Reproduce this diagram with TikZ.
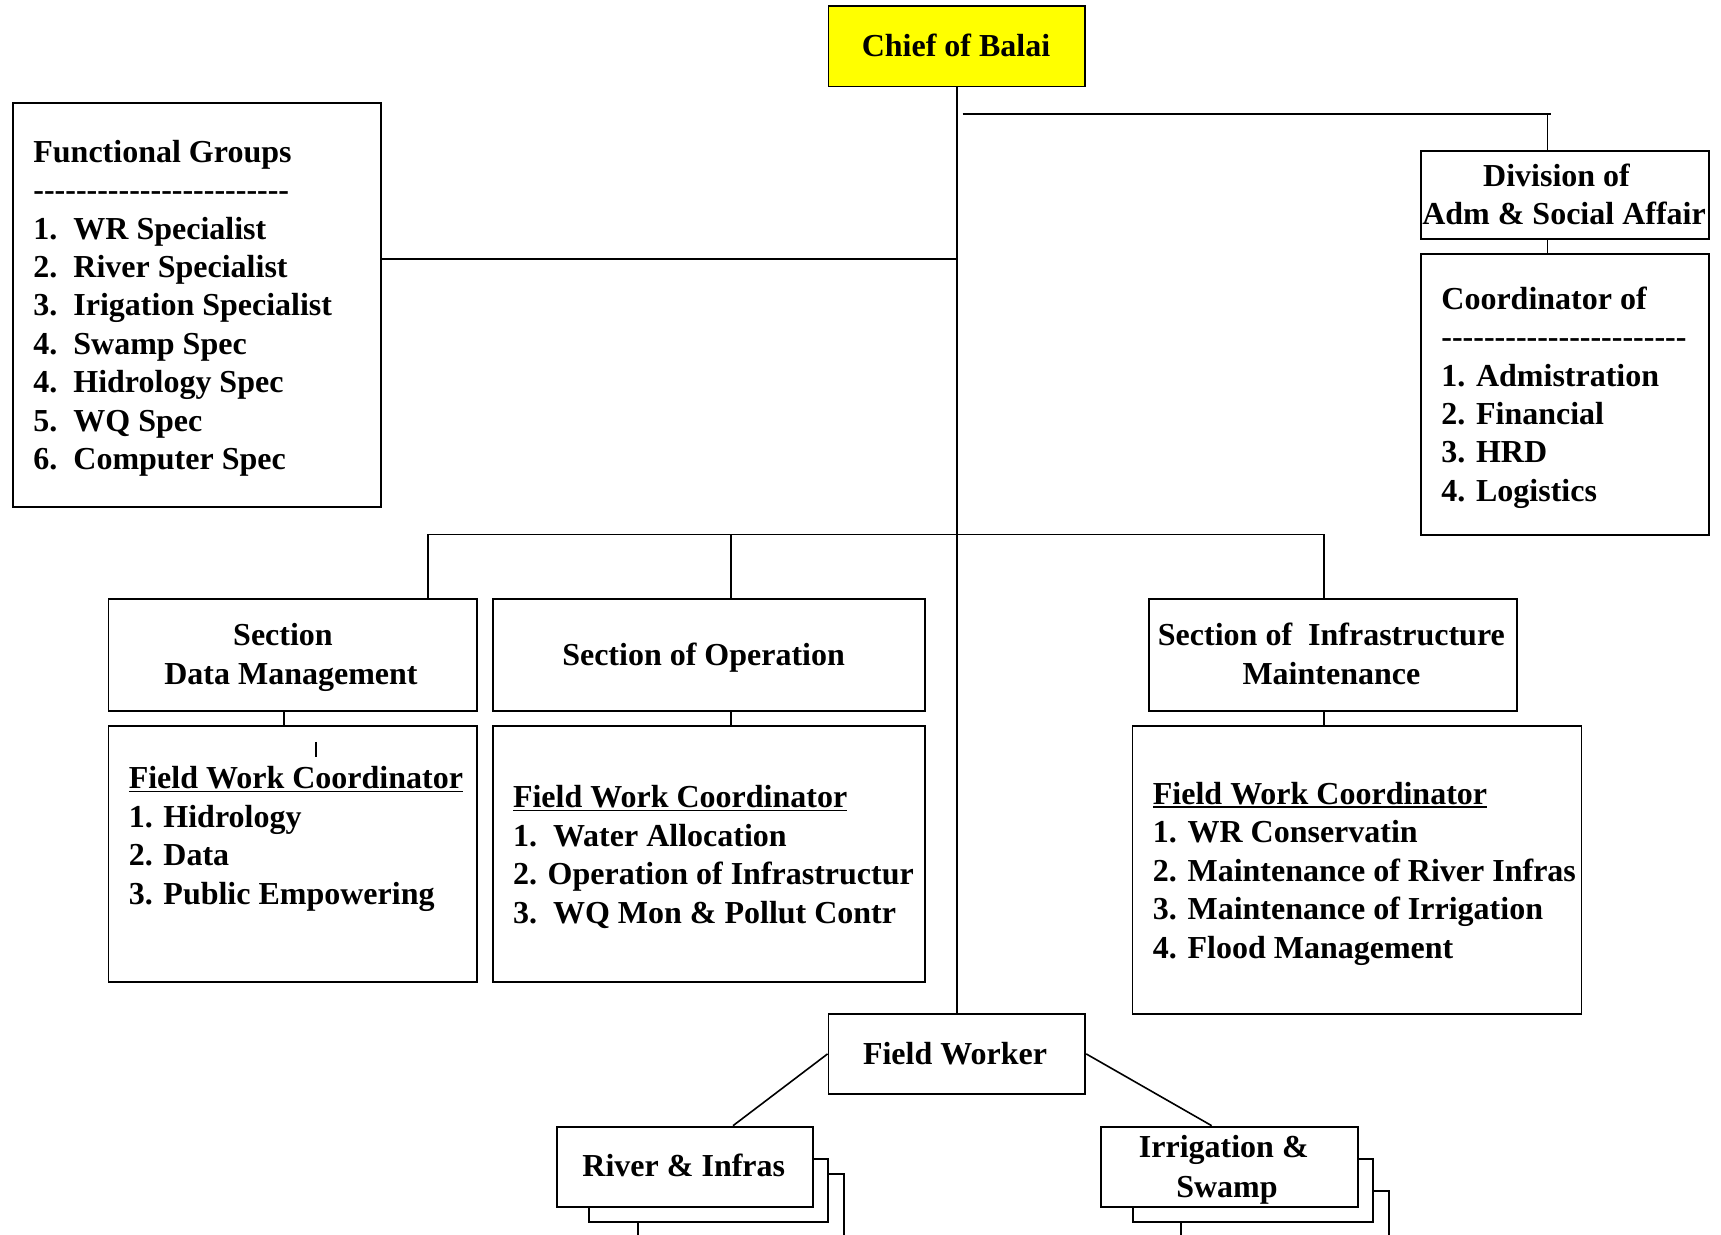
\documentclass[tikz,border=0pt]{standalone}
\usepackage{fontspec}
\setmainfont{Liberation Serif}
\definecolor{chiefyellow}{HTML}{FFFF00}
\newcommand\ulf[1]{\setbox0\hbox{#1}\rlap{\rule[-1.6pt]{\wd0}{0.8pt}}\box0}
\newcommand\hyrow[1]{\foreach\k in {1,...,#1}{-\kern0pt}}
\newcommand\nb[1]{\makebox[20pt][l]{#1}}
\newcommand\fst{\rule{0pt}{12pt}}
\begin{document}
\begin{tikzpicture}[x=0.5pt,y=-0.5pt,
  box/.style={draw, line width=0.9pt, fill=white, inner sep=0pt, anchor=north west},
  conn/.style={line width=0.8pt},
  txt/.style={inner sep=0pt, anchor=north west, align=left, font=\fontsize{16}{19.2}\selectfont\bfseries},
  ctxt/.style={inner sep=0pt, anchor=base, font=\fontsize{16}{19.2}\selectfont\bfseries}]
\useasboundingbox (0,0) rectangle (1721,1235);
\clip (0,0) rectangle (1721,1235);

% boxes
\node[box, fill=chiefyellow, minimum width=128.4pt, minimum height=40.05pt] (chief) at (827.6,5.5) {};
\node[box, minimum width=144pt, minimum height=44pt] (div) at (1420,150) {};
\node[box, minimum width=144pt, minimum height=140.5pt] (coord) at (1420,253.5) {};
\node[box, minimum width=184pt, minimum height=202pt] (fg) at (12,102) {};
\node[box, minimum width=184.2pt, minimum height=56pt] (sdm) at (107.6,598) {};
\node[box, minimum width=216.15pt, minimum height=56pt] (sop) at (491.7,598) {};
\node[box, minimum width=184pt, minimum height=56pt] (sin) at (1148,598) {};
\node[box, minimum width=184.2pt, minimum height=127.75pt] (fdm) at (107.6,725.5) {};
\node[box, minimum width=216.15pt, minimum height=127.75pt] (fop) at (491.7,725.5) {};
\node[box, minimum width=224.45pt, minimum height=143.75pt] (fin) at (1131.6,725.5) {};
\node[box, minimum width=128.4pt, minimum height=40pt] (fw) at (827.6,1013) {};
\node[box, minimum width=103.3pt, minimum height=50pt] (riv3) at (636.7,1173.3) {};
\node[box, minimum width=119.5pt, minimum height=31.35pt] (riv2) at (588.3,1158.3) {};
\node[box, minimum width=128pt, minimum height=40pt] (riv1) at (555.7,1125.7) {};
\node[box, minimum width=103.85pt, minimum height=50pt] (irr3) at (1180,1190) {};
\node[box, minimum width=120pt, minimum height=31.65pt] (irr2) at (1132.3,1157.7) {};
\node[box, minimum width=128.35pt, minimum height=40pt] (irr1) at (1100,1125.7) {};

% connectors
\coordinate (fgj) at (956,259);
\coordinate (rbs) at (962.6,114);
\coordinate (rbe) at (1551,114);
\coordinate (rbd) at (1547.6,114);
\coordinate (busl) at (428,534.5);
\coordinate (busm) at (731,534.5);
\coordinate (busr) at (1324,534.5);
\coordinate (tickt) at (316,742);
\coordinate (tickb) at (316,757);
\draw[conn] (chief.south) -- (fw.north);
\draw[conn] (fg.east |- fgj) -- (fgj);
\draw[conn] (rbs) -- (rbe);
\draw[conn] (rbd) -- (rbd |- div.north);
\draw[conn] (rbd |- div.south) -- (rbd |- coord.north);
\draw[conn] (busl) -- (busr);
\draw[conn] (busl) -- (busl |- sdm.north);
\draw[conn] (busm) -- (busm |- sop.north);
\draw[conn] (busr) -- (busr |- sin.north);
\draw[conn] (284,0 |- sdm.south) coordinate (dmc) -- (dmc |- fdm.north);
\draw[conn] (busm |- sop.south) -- (busm |- fop.north);
\draw[conn] (busr |- sin.south) -- (busr |- fin.north);
\draw[conn] (tickt) -- (tickb);
\draw[conn] (fw.west) -- (733,0 |- riv1.north);
\draw[conn] (fw.east) -- (1211.7,0 |- irr1.north);

% texts
\node[ctxt] (tchief) at (956,56.5) {Chief of Balai};
\node[ctxt] (tdiv1) at (1556.5,187) {Division of};
\node[ctxt] (tdiv2) at (1564,224.5) {Adm \& Social Affair};
\node[txt] (tcoord) at (1441,285) {\fst Coordinator of\\ \hyrow{23}\\ 1. Admistration\\ 2. Financial\\ 3. HRD\\ 4. Logistics};
\node[txt] (tfg) at (33,138) {\fst Functional Groups\\ \hyrow{24}\\ \nb{1.}WR Specialist\\ \nb{2.}River Specialist\\ \nb{3.}Irigation Specialist\\ \nb{4.}Swamp Spec\\ \nb{4.}Hidrology Spec\\ \nb{5.}WQ Spec\\ \nb{6.}Computer Spec};
\node[ctxt] (tsdm1) at (283,646) {Section};
\node[ctxt] (tsdm2) at (291,684.5) {Data Management};
\node[ctxt] (tsop) at (703.6,665.5) {Section of Operation};
\node[ctxt] (tsin1) at (1331.4,646) {Section of\ \ Infrastructure};
\node[ctxt] (tsin2) at (1331.4,684.5) {Maintenance};
\node[txt] (tfdm) at (128.4,764.5) {\fst\ulf{Field Work Coordinator}\\ 1. Hidrology\\ 2. Data\\ 3. Public Empowering};
\node[txt] (tfop) at (512.6,783.5) {\fst\ulf{Field Work Coordinator}\\ \nb{1.}Water Allocation\\ 2. Operation of Infrastructur\\ \nb{3.}WQ Mon \& Pollut Contr};
\node[txt] (tfin) at (1152.5,780) {\fst\ulf{Field Work Coordinator}\\ 1. WR Conservatin\\ 2. Maintenance of River Infras\\ 3. Maintenance of Irrigation\\ 4. Flood Management};
\node[ctxt] (tfw) at (955,1064) {Field Worker};
\node[ctxt] (triv) at (683.8,1176) {River \& Infras};
\node[ctxt] (tirr1) at (1223.8,1157.5) {Irrigation \&};
\node[ctxt] (tirr2) at (1227,1197) {Swamp};
\end{tikzpicture}
\end{document}
